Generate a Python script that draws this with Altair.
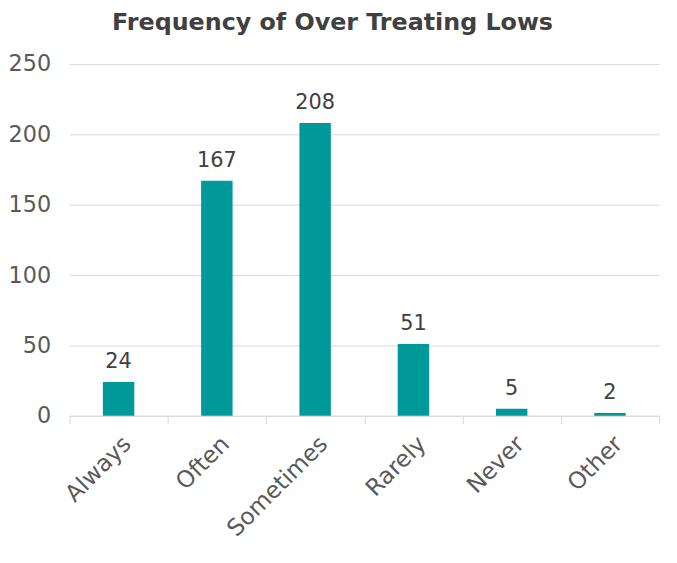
import altair as alt
import pandas as pd

categories = ["Always", "Often", "Sometimes", "Rarely", "Never", "Other"]
counts = [24, 167, 208, 51, 5, 2]

df = pd.DataFrame({"cat": categories, "n": counts})

FONT = "DejaVu Sans"

base = alt.Chart(df).encode(
    x=alt.X("cat:N", sort=categories, title=None,
            scale=alt.Scale(paddingInner=0, paddingOuter=0),
            axis=alt.Axis(labelAngle=-45, labelFontSize=23.5, labelColor="#595959",
                          labelFont=FONT, labelAlign="right", labelBaseline="top",
                          labelPadding=8, tickBand="extent",
                          domainColor="#d9d9d9", tickColor="#d9d9d9", tickSize=8,
                          grid=False)),
    y=alt.Y("n:Q", title=None,
            scale=alt.Scale(domain=[0, 250]),
            axis=alt.Axis(values=[0, 50, 100, 150, 200, 250], labelFontSize=22.5,
                          labelColor="#595959", labelFont=FONT, labelPadding=19,
                          domain=False, ticks=False, gridColor="#d9d9d9")),
)

bars = base.mark_bar(color="#00999A", width=alt.RelativeBandSize(0.32))
labels = base.mark_text(dy=-20, fontSize=21, color="#404040", font=FONT).encode(
    text="n:Q")

chart = (bars + labels).properties(
    width=595, height=355,
    padding={"left": 62, "top": 54, "right": 10, "bottom": 140},
    autosize=alt.AutoSizeParams(type="none"),
    title=alt.TitleParams("Frequency of Over Treating Lows", fontSize=24,
                          font=FONT, fontWeight="bold", color="#404040",
                          offset=18, dx=-32),
).configure_view(stroke=None)

chart.save("out.html", embed_options={"renderer": "svg", "actions": False})
